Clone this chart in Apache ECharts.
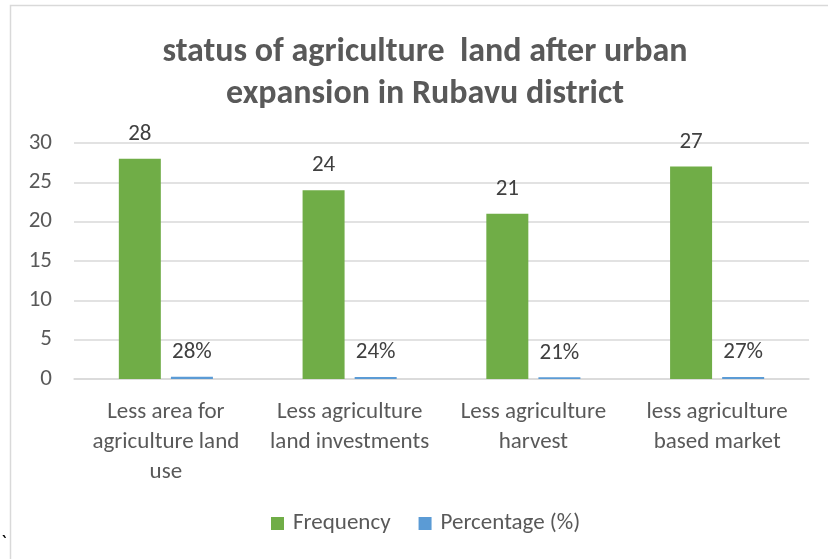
<!DOCTYPE html>
<html><head><meta charset="utf-8">
<script src="https://cdn.jsdelivr.net/npm/echarts@6/dist/echarts.min.js"></script>
<style>html,body{margin:0;padding:0;background:#fff}#c{width:828px;height:559px}</style>
</head><body><div id="c"></div>
<script>
const categories = ['Less area for\nagriculture land\nuse', 'Less agriculture\nland investments', 'Less agriculture\nharvest', 'less agriculture\nbased market'];
const frequency = [28, 24, 21, 27];
const percentage = [0.28, 0.24, 0.21, 0.27];
const percentLabels = ['28%', '24%', '21%', '27%'];
const yTicks = [0, 5, 10, 15, 20, 25, 30];
const FONT = 'Carlito, "Liberation Sans Narrow", "Open Sans", sans-serif';
const chart = echarts.init(document.getElementById('c'));
chart.setOption({
  animation: false,
  backgroundColor: '#fff',
  graphic: [
    {type: 'rect', shape: {x: 10.5, y: 5.5, width: 830, height: 570}, style: {fill: 'none', stroke: '#d9d9d9', lineWidth: 1.5}},
    {type: 'text', left: 1, top: 534, style: {text: '`', font: '20px ' + FONT, fill: '#000'}}
  ],
  title: {
    text: 'status of agriculture  land after urban\nexpansion in Rubavu district',
    left: 420, top: 26, textAlign: 'center',
    textStyle: {fontFamily: FONT, fontWeight: 'bold', fontSize: 34, color: '#595959', lineHeight: 42}
  },
  legend: {
    bottom: 19, left: 266, itemWidth: 13, itemHeight: 13, itemGap: 28,
    icon: 'rect',
    textStyle: {fontFamily: FONT, fontSize: 23, color: '#595959', padding: [0, 0, 0, 4]},
    data: ['Frequency', 'Percentage (%)']
  },
  grid: {left: 74, right: 19, top: 143, bottom: 180, containLabel: false},
  xAxis: {
    type: 'category', data: categories,
    axisLine: {lineStyle: {color: '#d9d9d9', width: 1.5}},
    axisTick: {show: false},
    axisLabel: {fontFamily: FONT, fontSize: 23, color: '#595959', lineHeight: 30, margin: 18, interval: 0}
  },
  yAxis: {
    type: 'value', min: 0, max: 30, interval: 5,
    axisLine: {show: false}, axisTick: {show: false},
    splitLine: {lineStyle: {color: '#d9d9d9', width: 1.5}},
    axisLabel: {fontFamily: FONT, fontSize: 23, color: '#595959', margin: 22,
      formatter: v => yTicks.includes(v) ? String(v) : ''}
  },
  series: [
    {name: 'Frequency', type: 'bar', data: frequency, barWidth: 42, barGap: '24%',
     itemStyle: {color: '#70ad47'},
     label: {show: true, position: 'top', distance: 13, fontFamily: FONT, fontSize: 23, color: '#404040'}},
    {name: 'Percentage (%)', type: 'bar', data: percentage, barWidth: 42,
     itemStyle: {color: '#5b9bd5'},
     label: {show: true, position: 'top', distance: 13, fontFamily: FONT, fontSize: 23, color: '#404040',
       formatter: p => percentLabels[p.dataIndex]}}
  ]
});
</script></body></html>
